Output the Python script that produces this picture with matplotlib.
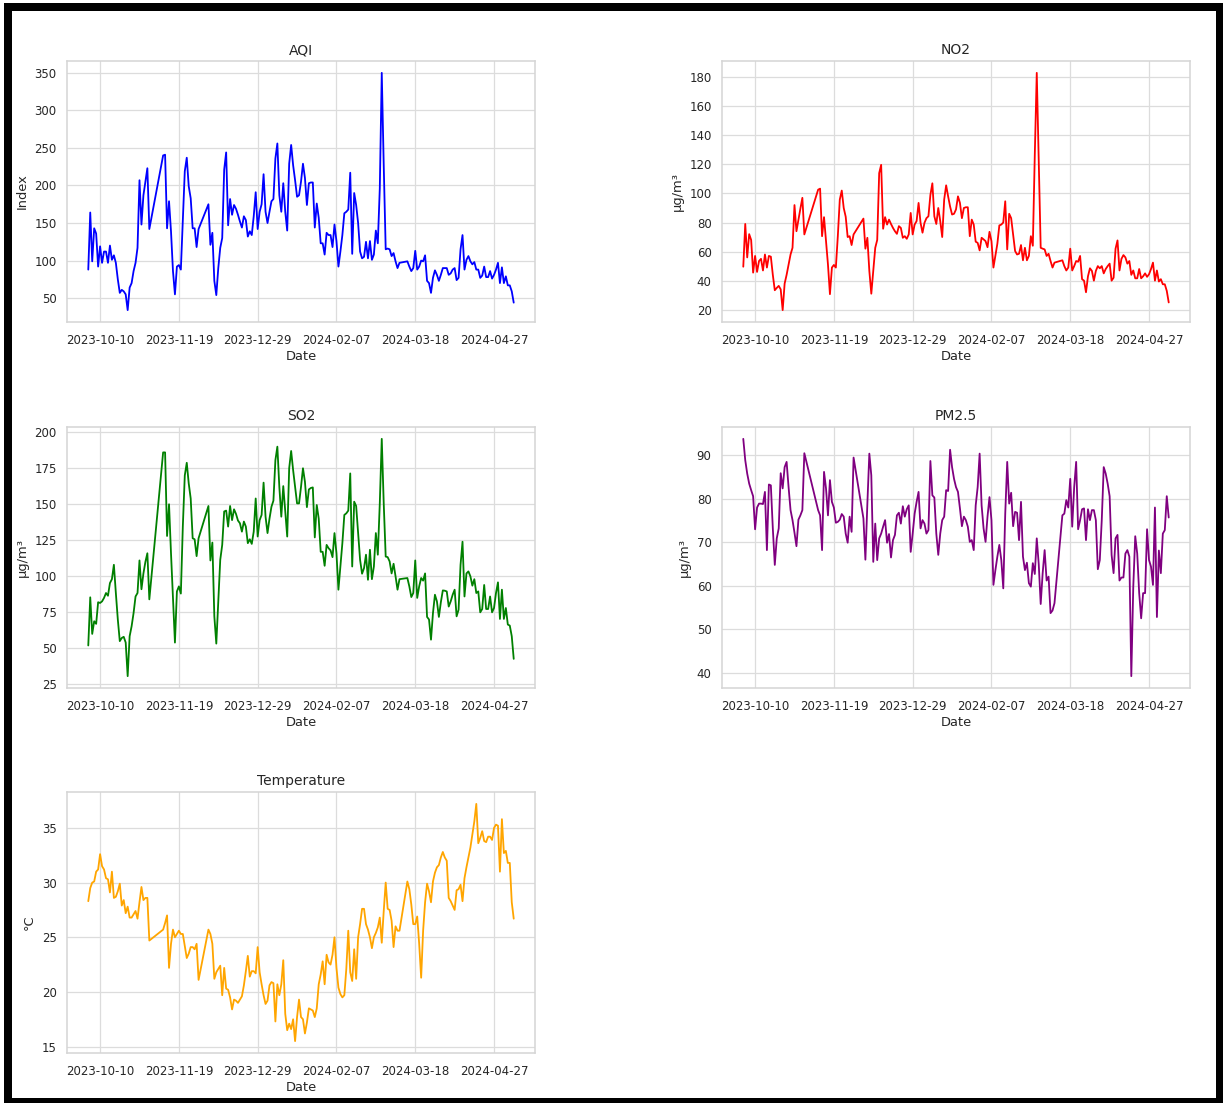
import matplotlib
matplotlib.use("Agg")
import matplotlib.pyplot as plt
import matplotlib.dates as mdates
from matplotlib.ticker import MultipleLocator
from matplotlib.patches import Rectangle
import pandas as pd
import seaborn as sns

# ---------------- data ----------------
ref_date = "2023-10-10"
day_offsets = (list(range(-6, 26)) + list(range(32, 51)) +
               list(range(55, 153)) + list(range(156, 211)))

aqi = [88,164,99,143,136,92,119,97,112,112,97,120,101,107,97,75,57,61,59,55,34,64,70,86,97,117,207,148,187,205,223,142,
       240,241,143,179,139,86,55,92,94,88,152,219,237,199,183,143,143,118,142,
       175,121,137,73,54,90,117,130,221,244,147,182,161,174,169,161,152,144,159,154,
       132,139,134,159,191,142,165,175,215,165,150,165,179,182,236,256,187,165,203,165,
       140,229,254,227,207,185,187,205,229,210,174,203,204,204,144,176,157,123,123,108,
       137,134,134,118,148,126,92,112,134,163,165,168,217,109,190,174,150,112,103,105,
       125,103,126,101,108,140,123,196,350,227,115,116,115,106,110,99,90,97,
       99,92,86,90,113,88,92,100,99,107,73,70,57,77,87,81,73,81,90,90,
       90,81,83,88,90,74,77,115,134,88,101,106,99,95,98,88,88,77,80,92,
       78,78,86,76,81,88,97,70,91,70,79,67,67,59,44]

no2 = [49.6,79,56,72,68,45.5,57,46,53.5,55,47,58,49,57,56.5,44,33.4,35,36.4,34,19.7,38,44,51,58,62.6,92,74,82,89.6,97,71.8,
       102.6,103.3,70.6,83.7,67,51,30.7,49,50.8,49,70.6,95.8,102,90,84,70,70.6,64.5,71.8,
       82.7,62,69.5,46.7,31,46.7,62.6,68,114,119.7,75.7,83.7,78.6,82,79,76.3,74,72.2,77.5,76.3,
       69.5,70.6,68.8,71.8,86.6,71.8,78.6,81,93.5,79.8,73,79.8,83,84.3,99,107,84.3,79,90,81,
       70,95.8,105.6,98,91,85.5,86,89,98,93.5,83,90,90.5,90.5,70.6,82,78.6,66.8,66,60.8,
       69.5,68.4,67.2,63,73.6,67.2,49,57,65.4,78,78.6,80,94.6,61.5,86,83,71.8,60.4,58,58.5,
       64.5,54,62.6,54,57,70.6,64,126.6,183,122,62.6,62,61.5,57,58.5,53.5,49,52.4,
       54,50,47,49,62,47,50,53.5,53,57,41,40,32,43,48.5,46.7,40,46.7,50,48.5,
       50,45,48,50,51.7,40,42,62,67.7,47,55,57.6,56,51.7,53.5,44,47,41.6,41.6,48,
       41.6,43,45,42.6,44.4,48,52.4,40,47,39.4,41,37.5,37.5,33,25]

so2 = [52,85.4,60,68.8,67,82,81.5,82.6,85,88.4,86.5,95.3,98,108,88.4,70,55,57.2,58,54,30.7,58.4,65.3,74.5,86,88.4,111,91,102,110,116,84,
       186,186,128,150,116,85,54,89.5,93,88,134.5,170,178.8,164.5,154,126.4,125.7,114,126.4,
       148.8,111,123.4,72.2,53.3,82.6,111.4,121.8,145,145.6,134.5,148.8,139,146.5,143.3,138.7,136.8,131,138,134.5,
       123,125.7,122.5,131,154,127.6,139,142.6,165,141.4,130,140,148.3,152.5,180.6,190,162,141.4,162.6,145,
       127.6,175,187,173.7,162,150.6,150.6,162,175,165.6,148,160.3,161.3,161.7,127,149.5,140,117,117,107.3,
       121.8,119.5,118,113.3,130,116,90.7,106.8,123,142.6,143.7,145.6,171.4,106.8,151.8,148.8,130,111.4,101.8,105.7,
       115,97.6,118.4,98,106.8,130,115,150.6,195.4,150.6,113.7,113.3,110.3,102,108.7,100,90.7,98,
       98.8,93,85.6,88.4,111,85,93,98.8,97,102,71.8,70,56,74.5,87.2,82.6,71.8,82,90.2,90,
       89.5,79,82.6,87.2,90.7,72.2,76.8,108,124,86,102,103.4,100,93.5,98,88.4,89.5,75,77.3,94,
       77.3,77.3,86,75,78,88.4,95.8,70.4,90.7,70.4,78,66.5,65.8,58.4,42.7]

pm25 = [93.8,88.9,85.8,83.5,82,80.6,73,78,78.9,78.9,78.8,81.6,68.2,83.3,83.1,73.2,64.8,70.9,73.2,85.9,82.4,87.3,88.5,82.7,77.4,75.1,72.2,69.1,75.2,76.2,77.4,90.5,
        77.4,76.2,68.2,86.2,82.4,76.2,84.3,79.3,78,74.5,74.7,75.2,76.5,75.9,72,69.9,75.9,72.4,89.5,
        75.5,66,78.9,90.4,85.4,65.5,74.3,65.9,70.9,72,73.6,75.1,69.9,71.9,66.5,70.5,71.7,76.2,76.8,74.3,
        78.3,75.9,77.6,78.5,67.8,72,76.6,79.3,81.6,73.2,75.1,74.3,72,72.8,88.7,80.8,80.3,72,67.1,72,
        75.1,75.9,82,81.8,91.3,87.3,84.6,82.7,81.6,77.8,73.7,75.9,75.1,73.6,70.1,70.5,68.2,78.5,82.7,90.4,
        78.5,73.2,70.1,75.9,80.4,75.1,60.2,63.6,66.7,69.4,65.9,59.4,76.6,88.5,78.9,81.4,73.7,77,76.8,70.5,
        79.3,66.7,63.6,65.3,60.6,59.8,65.2,62.7,70.9,65,55.8,62.9,68.2,61.2,62.1,53.7,54.3,56,
        76.2,76.6,79.7,78,84.6,73.6,82.7,88.5,73,75.1,77.6,77.8,70.5,77.6,75.1,77.4,77.4,75.1,63.8,65.9,
        75.1,87.3,85.8,83.5,80.6,67.1,62.9,70.9,71.7,61.2,61.9,61.9,67.4,68.2,66.7,39.2,59.8,71.4,67.4,58.3,
        52.5,58.3,58.3,73,65.9,64.4,60.2,78,52.8,68.1,62.9,72,72.8,80.6,75.7]

temperature = [28.3,29.5,30,30.1,31,31.2,32.6,31.5,31.2,30.4,30.3,29.1,31,28.6,28.7,29.2,29.9,27.9,28.4,27.2,27.8,26.8,26.8,27.1,27.4,26.7,28.2,29.6,28.4,28.6,28.6,24.7,
               25.7,26.3,27,22.2,24.4,25.7,25,25.3,25.6,25.3,25.3,24.2,23.1,23.5,24.1,24.1,23.9,24.4,21.1,
               25.7,25.3,24.4,21.2,21.8,22.1,22.4,19.7,22.2,20.3,20.2,19.5,18.4,19.3,19.2,19,19.3,19.6,20.6,21.9,
               23.3,21.4,21.9,21.9,21.7,24.1,21.8,20.7,19.7,18.9,19.2,20.6,20.9,20.8,17.3,20.7,19.7,20.7,22.9,18,
               16.5,17.1,16.6,17.5,15.5,17.7,19.3,17.7,17.5,16.2,17.2,18.5,18.4,18.3,17.7,18.5,20.7,21.6,22.8,20.7,
               23.4,22.7,22.5,23.4,25,22.2,20.4,19.8,19.5,19.7,22.1,25.6,21.8,21,23.9,21.2,25,26.2,27.6,27.6,
               26.2,25.7,25,24,25,25.4,25.9,26.8,24.5,27.4,30,27.6,27.5,26.5,24.1,26,25.6,25.6,
               30.1,29.4,28,26.2,26.2,26.9,24.4,21.3,25.6,28.2,29.9,29.2,28.2,30.1,30.9,31.4,31.6,32.3,32.8,32.3,
               32,28.6,28.3,27.9,27.5,29.3,29.4,29.8,28.3,30.4,31.4,32.3,33.2,34.4,35.6,37.2,33.6,34.1,34.7,33.8,
               33.7,34.2,34.2,33.9,35,35.3,35.2,31,35.8,32.7,32.9,31.8,31.8,28.2,26.7]

tick_dates = ["2023-10-10", "2023-11-19", "2023-12-29", "2024-02-07", "2024-03-18", "2024-04-27"]

titles = ["AQI", "NO2", "SO2", "PM2.5", "Temperature"]
ylabels = ["Index", "µg/m³", "µg/m³", "µg/m³", "°C"]
series = [aqi, no2, so2, pm25, temperature]
colors = ["blue", "red", "green", "purple", "orange"]
ysteps = [50, 20, 25, 10, 5]

# ---------------- plot ----------------
sns.set_style("whitegrid")
plt.rcParams["font.family"] = ["DejaVu Sans"]
text_color = "#262626"

dates = pd.Timestamp(ref_date) + pd.to_timedelta(day_offsets, unit="D")
ticks = pd.to_datetime(tick_dates)

W, H = 1223, 1103
fig = plt.figure(figsize=(W / 100, H / 100), dpi=100)
fig.patch.set_facecolor("white")

col_left = [67, 722]
row_bottom = [322, 688, 1053]
ax_w, ax_h = 468, 261

for i, (title, ylab, vals, col, step) in enumerate(zip(titles, ylabels, series, colors, ysteps)):
    r, c = divmod(i, 2)
    ax = fig.add_axes([col_left[c] / W, 1 - row_bottom[r] / H, ax_w / W, ax_h / H])
    ax.plot(dates, vals, color=col, linewidth=1.3)
    ax.set_title(title, fontsize=10, color=text_color, pad=5)
    ax.set_xlabel("Date", fontsize=9.4, color=text_color, labelpad=2)
    ax.set_ylabel(ylab, fontsize=9.4, color=text_color, labelpad=4)
    ax.set_xticks(ticks)
    ax.xaxis.set_major_formatter(mdates.DateFormatter("%Y-%m-%d"))
    ax.yaxis.set_major_locator(MultipleLocator(step))
    ax.tick_params(axis="x", labelsize=8.5, colors=text_color, pad=5)
    ax.tick_params(axis="y", labelsize=8.5, colors=text_color, pad=4)
    ax.grid(True, color="#dcdcdc", linewidth=0.9)
    for s in ax.spines.values():
        s.set_color("#d5d5d5")
        s.set_linewidth(1.1)

# black frame around the image
frame = [(4, 3, W - 4, 8), (4, 3, 8, H - 3), (1216, 3, 7, H - 3), (4, 1098, W - 4, 5)]
for x, y, w, h in frame:
    fig.add_artist(Rectangle((x / W, 1 - (y + h) / H), w / W, h / H,
                             transform=fig.transFigure, facecolor="black",
                             edgecolor="none", zorder=10))

fig.savefig("out.png", dpi=100)
